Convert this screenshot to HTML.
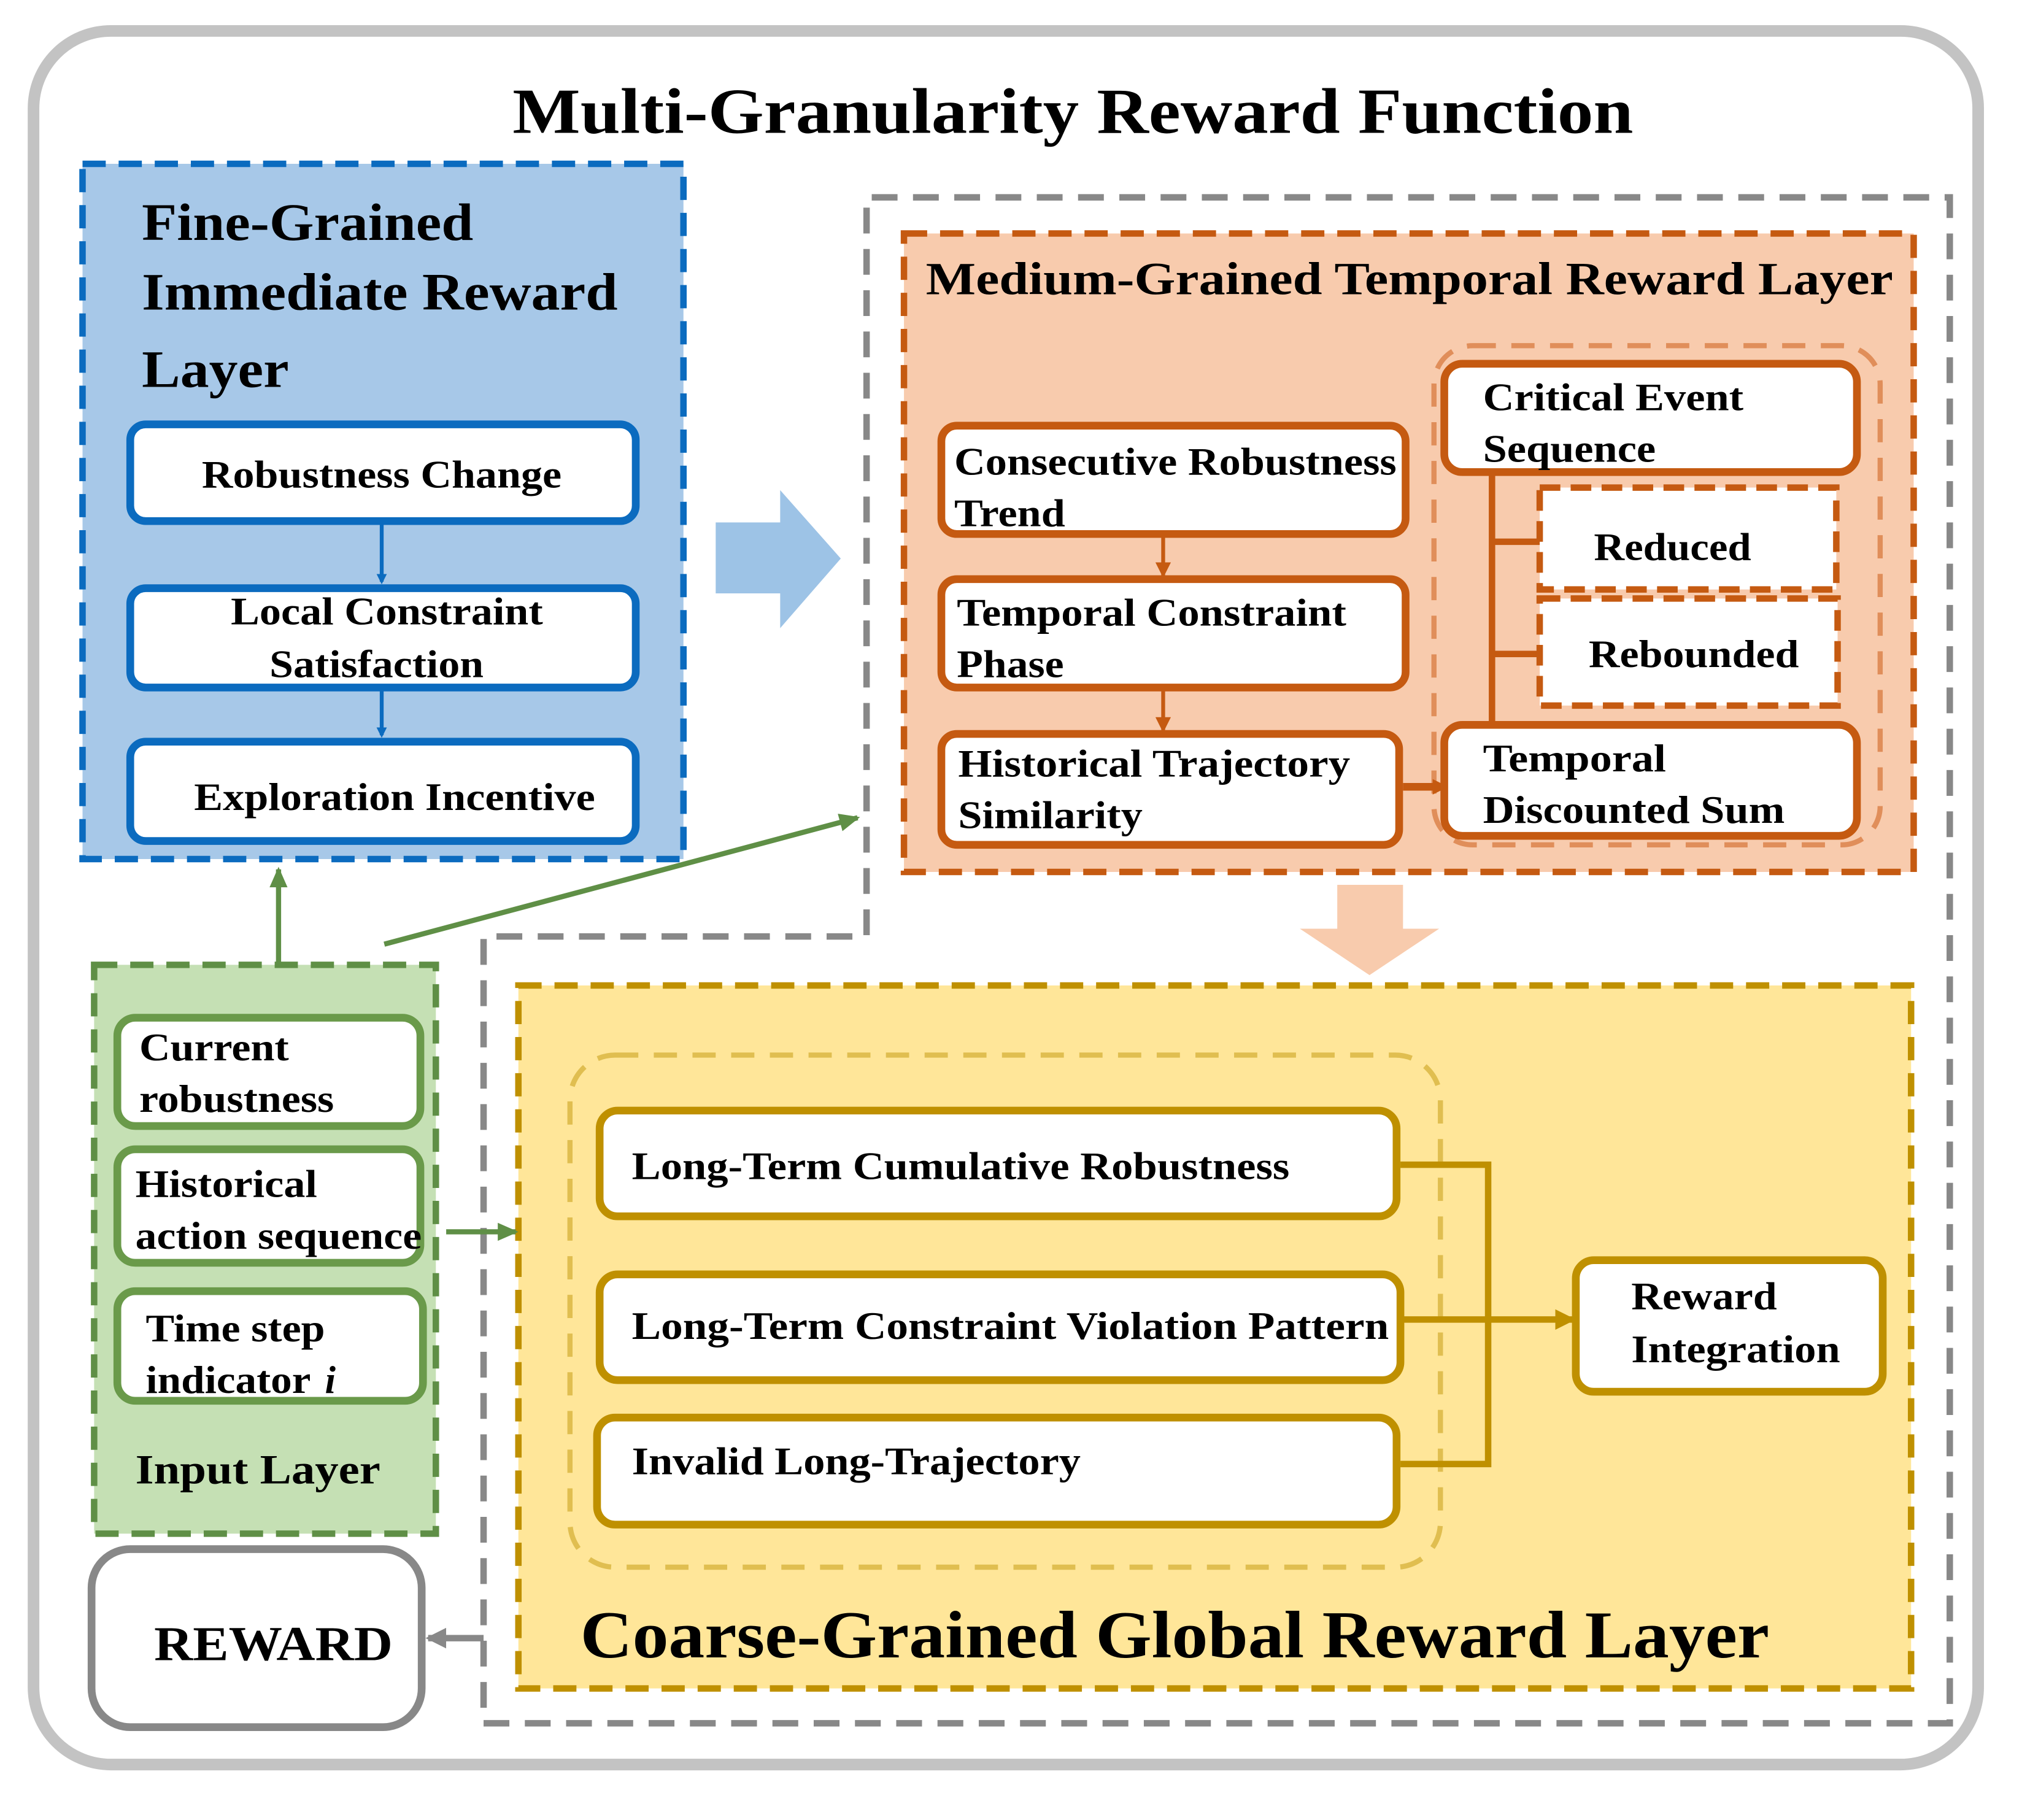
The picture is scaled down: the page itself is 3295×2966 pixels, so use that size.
<!DOCTYPE html>
<html><head><meta charset="utf-8">
<style>
html,body{margin:0;padding:0;background:#fff;}
svg{display:block;}
text{font-family:"Liberation Serif","Times New Roman",serif;font-weight:bold;fill:#000;}
</style></head>
<body>
<svg width="3295" height="2966" viewBox="0 0 1568 1411" preserveAspectRatio="none" xmlns="http://www.w3.org/2000/svg">
<defs>
<marker id="ab" markerWidth="8" markerHeight="8" refX="6" refY="4" orient="auto" markerUnits="userSpaceOnUse"><path d="M0,0 L8,4 L0,8 z" fill="#0b6bbf"/></marker>
<marker id="ao" markerWidth="12" markerHeight="12" refX="10" refY="6" orient="auto" markerUnits="userSpaceOnUse"><path d="M0,0 L12,6 L0,12 z" fill="#c55a11"/></marker>
<marker id="ag" markerWidth="16" markerHeight="14" refX="14" refY="7" orient="auto" markerUnits="userSpaceOnUse"><path d="M0,0 L16,7 L0,14 z" fill="#5f8f46"/></marker>
<marker id="ay" markerWidth="16" markerHeight="16" refX="14" refY="8" orient="auto" markerUnits="userSpaceOnUse"><path d="M0,0 L16,8 L0,16 z" fill="#bf9000"/></marker>
<marker id="agr" markerWidth="16" markerHeight="16" refX="14" refY="8" orient="auto" markerUnits="userSpaceOnUse"><path d="M0,0 L16,8 L0,16 z" fill="#888"/></marker>
</defs>
<rect width="1568" height="1411" fill="#fff"/>
<rect x="26" y="24" width="1508" height="1344" rx="60" fill="#fff" stroke="#c3c3c3" stroke-width="9"/>
<text x="832" y="103" font-size="50" text-anchor="middle" textLength="869" lengthAdjust="spacingAndGlyphs">Multi-Granularity Reward Function</text>

<path d="M672,725 L672,153 L1512,153 L1512,1336 L375,1336 L375,726 L672,726" fill="none" stroke="#888" stroke-width="5" stroke-dasharray="20,12"/>

<rect x="64" y="127" width="466" height="539" fill="#a7c8e8" stroke="#0b6bbf" stroke-width="5" stroke-dasharray="18,10"/>
<text x="110" y="186" font-size="41" textLength="257" lengthAdjust="spacingAndGlyphs">Fine-Grained</text>
<text x="110" y="240" font-size="41" textLength="369" lengthAdjust="spacingAndGlyphs">Immediate Reward</text>
<text x="110" y="300" font-size="41" textLength="114" lengthAdjust="spacingAndGlyphs">Layer</text>
<g fill="#fff" stroke="#0b6bbf" stroke-width="6">
<rect x="101" y="329" width="392" height="75" rx="12"/>
<rect x="101" y="456" width="392" height="77" rx="12"/>
<rect x="101" y="575" width="392" height="77" rx="12"/>
</g>
<text x="296" y="378" font-size="30" text-anchor="middle" textLength="279" lengthAdjust="spacingAndGlyphs">Robustness Change</text>
<text x="300" y="484" font-size="30" text-anchor="middle" textLength="242" lengthAdjust="spacingAndGlyphs">Local Constraint</text>
<text x="292" y="525" font-size="30" text-anchor="middle" textLength="166" lengthAdjust="spacingAndGlyphs">Satisfaction</text>
<text x="306" y="628" font-size="30" text-anchor="middle" textLength="311" lengthAdjust="spacingAndGlyphs">Exploration Incentive</text>
<line x1="296" y1="406" x2="296" y2="451" stroke="#0b6bbf" stroke-width="3" marker-end="url(#ab)"/>
<line x1="296" y1="535" x2="296" y2="570" stroke="#0b6bbf" stroke-width="3" marker-end="url(#ab)"/>

<path d="M555,405 L605,405 L605,380 L652,433 L605,487 L605,460 L555,460 z" fill="#9dc3e6"/>

<rect x="701" y="181" width="783" height="495" fill="#f8cbad" stroke="#c55a11" stroke-width="5" stroke-dasharray="18,10"/>
<text x="718" y="228" font-size="36" textLength="750" lengthAdjust="spacingAndGlyphs">Medium-Grained Temporal Reward Layer</text>
<rect x="1112" y="268" width="346" height="387" rx="30" fill="none" stroke="#e08e5a" stroke-width="4" stroke-dasharray="18,12"/>
<g fill="#fff" stroke="#c55a11" stroke-width="6">
<rect x="730" y="330" width="360" height="84" rx="12"/>
<rect x="730" y="449" width="360" height="84" rx="12"/>
<rect x="730" y="569" width="355" height="86" rx="12"/>
<rect x="1120" y="282" width="320" height="84" rx="14"/>
<rect x="1120" y="562" width="320" height="86" rx="14"/>
</g>
<g fill="#fff" stroke="#c55a11" stroke-width="5" stroke-dasharray="16,8">
<rect x="1194" y="378" width="230" height="79"/>
<rect x="1194" y="464" width="231" height="83"/>
</g>
<text x="740" y="368" font-size="30" textLength="343" lengthAdjust="spacingAndGlyphs">Consecutive Robustness</text>
<text x="740" y="408" font-size="30" textLength="86" lengthAdjust="spacingAndGlyphs">Trend</text>
<text x="742" y="485" font-size="30" textLength="302" lengthAdjust="spacingAndGlyphs">Temporal Constraint</text>
<text x="742" y="525" font-size="30" textLength="83" lengthAdjust="spacingAndGlyphs">Phase</text>
<text x="743" y="602" font-size="30" textLength="304" lengthAdjust="spacingAndGlyphs">Historical Trajectory</text>
<text x="743" y="642" font-size="30" textLength="143" lengthAdjust="spacingAndGlyphs">Similarity</text>
<text x="1150" y="318" font-size="30" textLength="202" lengthAdjust="spacingAndGlyphs">Critical Event</text>
<text x="1150" y="358" font-size="30" textLength="134" lengthAdjust="spacingAndGlyphs">Sequence</text>
<text x="1236" y="434" font-size="30" textLength="122" lengthAdjust="spacingAndGlyphs">Reduced</text>
<text x="1232" y="517" font-size="30" textLength="163" lengthAdjust="spacingAndGlyphs">Rebounded</text>
<text x="1150" y="598" font-size="30" textLength="142" lengthAdjust="spacingAndGlyphs">Temporal</text>
<text x="1150" y="638" font-size="30" textLength="234" lengthAdjust="spacingAndGlyphs">Discounted Sum</text>
<g stroke="#c55a11" stroke-width="5" fill="none">
<line x1="1157" y1="366" x2="1157" y2="562"/>
<line x1="1157" y1="420" x2="1194" y2="420"/>
<line x1="1157" y1="507" x2="1194" y2="507"/>
</g>
<line x1="902" y1="415" x2="902" y2="446" stroke="#c55a11" stroke-width="3" marker-end="url(#ao)"/>
<line x1="902" y1="534" x2="902" y2="566" stroke="#c55a11" stroke-width="3" marker-end="url(#ao)"/>
<line x1="1088" y1="610" x2="1121" y2="610" stroke="#c55a11" stroke-width="6" marker-end="url(#ao)"/>

<path d="M1037,686 L1088,686 L1088,720 L1116,720 L1062,756 L1008,720 L1037,720 z" fill="#f8cbad"/>

<rect x="402" y="764" width="1080" height="545" fill="#ffe699" stroke="#bf9000" stroke-width="5" stroke-dasharray="18,10"/>
<rect x="442" y="818" width="675" height="397" rx="35" fill="none" stroke="#e0be50" stroke-width="4" stroke-dasharray="18,12"/>
<g fill="#fff" stroke="#bf9000" stroke-width="6">
<rect x="465" y="861" width="618" height="82" rx="14"/>
<rect x="465" y="988" width="621" height="82" rx="14"/>
<rect x="463" y="1099" width="620" height="83" rx="14"/>
<rect x="1222" y="977" width="238" height="102" rx="14"/>
</g>
<text x="490" y="914" font-size="30" textLength="510" lengthAdjust="spacingAndGlyphs">Long-Term Cumulative Robustness</text>
<text x="490" y="1038" font-size="30" textLength="587" lengthAdjust="spacingAndGlyphs">Long-Term Constraint Violation Pattern</text>
<text x="490" y="1143" font-size="30" textLength="348" lengthAdjust="spacingAndGlyphs">Invalid Long-Trajectory</text>
<text x="1265" y="1015" font-size="30" textLength="113" lengthAdjust="spacingAndGlyphs">Reward</text>
<text x="1265" y="1056" font-size="30" textLength="162" lengthAdjust="spacingAndGlyphs">Integration</text>
<polyline points="1086,903 1154,903 1154,1135 1086,1135" stroke="#bf9000" stroke-width="5" fill="none"/>
<line x1="1086" y1="1023" x2="1220" y2="1023" stroke="#bf9000" stroke-width="5" marker-end="url(#ay)"/>
<text x="450" y="1285" font-size="52" textLength="922" lengthAdjust="spacingAndGlyphs">Coarse-Grained Global Reward Layer</text>

<rect x="73" y="748" width="265" height="441" fill="#c5e0b4" stroke="#5f8f46" stroke-width="5" stroke-dasharray="18,10"/>
<g fill="#fff" stroke="#6a9a4a" stroke-width="6">
<rect x="91" y="789" width="235" height="84" rx="14"/>
<rect x="91" y="891" width="235" height="88" rx="14"/>
<rect x="91" y="1001" width="237" height="85" rx="14"/>
</g>
<text x="108" y="822" font-size="30" textLength="116" lengthAdjust="spacingAndGlyphs">Current</text>
<text x="108" y="862" font-size="30" textLength="151" lengthAdjust="spacingAndGlyphs">robustness</text>
<text x="105" y="928" font-size="30" textLength="141" lengthAdjust="spacingAndGlyphs">Historical</text>
<text x="105" y="968" font-size="30" textLength="222" lengthAdjust="spacingAndGlyphs">action sequence</text>
<text x="113" y="1040" font-size="30" textLength="139" lengthAdjust="spacingAndGlyphs">Time step</text>
<text x="113" y="1080" font-size="30" textLength="128" lengthAdjust="spacingAndGlyphs">indicator</text>
<text x="252" y="1080" font-size="30" font-style="italic">i</text>
<text x="105" y="1150" font-size="32" textLength="190" lengthAdjust="spacingAndGlyphs">Input Layer</text>
<line x1="216" y1="746" x2="216" y2="674" stroke="#5f8f46" stroke-width="4" marker-end="url(#ag)"/>
<line x1="298" y1="732" x2="665" y2="634" stroke="#5f8f46" stroke-width="4" marker-end="url(#ag)"/>
<line x1="346" y1="955" x2="400" y2="955" stroke="#5f8f46" stroke-width="4" marker-end="url(#ag)"/>

<rect x="71" y="1201" width="256" height="138" rx="30" fill="#fff" stroke="#888" stroke-width="6"/>
<text x="212" y="1287" font-size="38" text-anchor="middle" textLength="185" lengthAdjust="spacingAndGlyphs">REWARD</text>
<line x1="375" y1="1270" x2="332" y2="1270" stroke="#888" stroke-width="5" marker-end="url(#agr)"/>
</svg>
</body></html>
